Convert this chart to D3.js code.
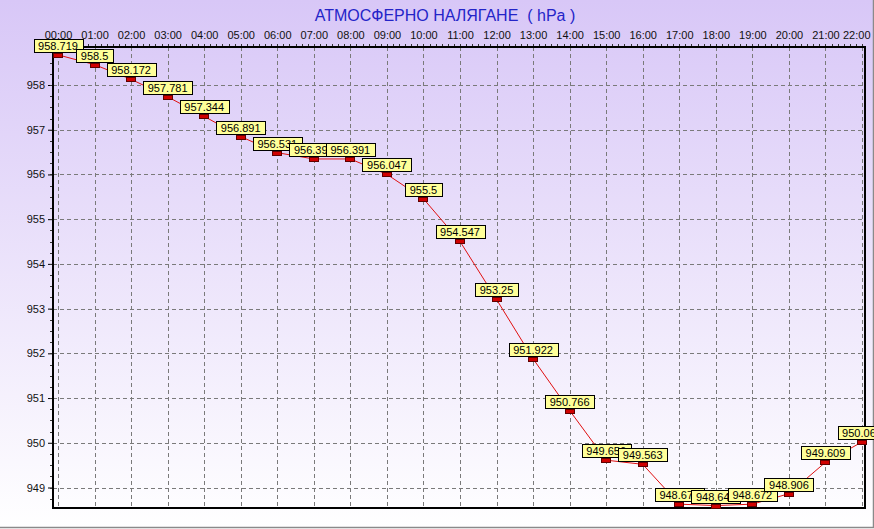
<!DOCTYPE html>
<html>
<head>
<meta charset="utf-8">
<script src="https://cdn.jsdelivr.net/npm/d3@7"></script>
<style>
  html, body { margin: 0; padding: 0; background: #fff; }
  svg { display: block; }
  text { font-family: "Liberation Sans", Arial, sans-serif; }
</style>
</head>
<body>
<svg id="chart" width="874" height="529"></svg>
<script>
const title = "АТМОСФЕРНО НАЛЯГАНЕ  ( hPa )";
const hours = ["00:00","01:00","02:00","03:00","04:00","05:00","06:00","07:00","08:00","09:00","10:00","11:00",
               "12:00","13:00","14:00","15:00","16:00","17:00","18:00","19:00","20:00","21:00","22:00"];
const pressure = [958.719, 958.5, 958.172, 957.781, 957.344, 956.891, 956.531, 956.391, 956.391, 956.047, 955.5, 954.547,
                  953.25, 951.922, 950.766, 949.656, 949.563, 948.672, 948.641, 948.672, 948.906, 949.609, 950.063];
const yTicks = [949, 950, 951, 952, 953, 954, 955, 956, 957, 958];

const W = 874, H = 529;
const plot = { left: 53, right: 865, top: 47, bottom: 508 };

const svg = d3.select("#chart");
const defs = svg.append("defs");
const grad = defs.append("linearGradient").attr("id", "bg").attr("x1", 0).attr("y1", 0).attr("x2", 0).attr("y2", 1);
grad.append("stop").attr("offset", "0%").attr("stop-color", "#d8c7f7");
grad.append("stop").attr("offset", "100%").attr("stop-color", "#ffffff");

svg.append("rect").attr("width", W).attr("height", H).attr("fill", "url(#bg)");
// outer frame (right/bottom)
svg.append("line").attr("x1", 873.5).attr("x2", 873.5).attr("y1", 0).attr("y2", 528).attr("stroke", "#8a8a8a").attr("stroke-width", 1.5);
svg.append("line").attr("x1", 0).attr("x2", 874).attr("y1", 527.5).attr("y2", 527.5).attr("stroke", "#8a8a8a").attr("stroke-width", 1.5);

const x = d3.scaleLinear().domain([0, hours.length - 1]).range([58, 862]);
const y = d3.scaleLinear().domain([949, 958]).range([487.5, 85]);

// title
svg.append("text").attr("x", 445).attr("y", 21).attr("text-anchor", "middle")
  .attr("font-size", 16).attr("fill", "#2424c8").style("white-space", "pre").attr("xml:space", "preserve").text(title);

// grid
const grid = svg.append("g").attr("stroke", "#7a7a7a").attr("stroke-width", 1).attr("stroke-dasharray", "4,3");
grid.selectAll("line.v").data(hours).join("line").attr("class", "v")
  .attr("x1", (d, i) => Math.round(x(i)) + 0.5).attr("x2", (d, i) => Math.round(x(i)) + 0.5)
  .attr("y1", plot.top).attr("y2", plot.bottom);
grid.selectAll("line.h").data(yTicks).join("line").attr("class", "h")
  .attr("x1", plot.left).attr("x2", plot.right)
  .attr("y1", d => Math.round(y(d)) + 0.5).attr("y2", d => Math.round(y(d)) + 0.5);

// top axis labels (hours)
const xAxis = d3.axisTop(x).tickValues(d3.range(hours.length)).tickFormat(i => hours[i]).tickSize(0).tickPadding(0);
const gx = svg.append("g").attr("transform", `translate(0,${plot.top})`).call(xAxis);
gx.select(".domain").remove();
gx.selectAll("text").attr("y", -8).attr("font-size", 11).attr("fill", "#111").attr("font-family", "Liberation Sans, Arial, sans-serif");
// keep the last label inside the picture
gx.selectAll(".tick").filter(d => d === hours.length - 1).select("text").attr("text-anchor", "end").attr("dx", 8);
// minor ticks on top axis (every 10 min)
const minorX = d3.range(0, (hours.length - 1) * 6 + 1).map(k => k / 6);
svg.append("g").selectAll("line").data(minorX).join("line")
  .attr("x1", d => Math.round(x(d)) + 0.5).attr("x2", d => Math.round(x(d)) + 0.5)
  .attr("y1", plot.top - 3).attr("y2", plot.top).attr("stroke", "#333").attr("stroke-width", 1);

// left axis
const yAxis = d3.axisLeft(y).tickValues(yTicks).tickFormat(d3.format("d")).tickSize(5).tickPadding(3);
const gy = svg.append("g").attr("transform", `translate(${plot.left},0)`).call(yAxis);
gy.select(".domain").remove();
gy.selectAll("line").attr("stroke", "#000");
gy.selectAll("text").attr("font-size", 11).attr("fill", "#111").attr("font-family", "Liberation Sans, Arial, sans-serif");
// minor ticks on y (every 0.25)
const minorY = d3.range(948.75, 958.76, 0.25).filter(v => y(v) > plot.top && y(v) < plot.bottom);
svg.append("g").selectAll("line").data(minorY).join("line")
  .attr("x1", plot.left - 3).attr("x2", plot.left)
  .attr("y1", d => Math.round(y(d)) + 0.5).attr("y2", d => Math.round(y(d)) + 0.5)
  .attr("stroke", "#333");

// plot frame
svg.append("rect").attr("x", plot.left).attr("y", plot.top)
  .attr("width", plot.right - plot.left).attr("height", plot.bottom - plot.top)
  .attr("fill", "none").attr("stroke", "#000").attr("stroke-width", 2);

// line
const line = d3.line().x((d, i) => x(i)).y(d => y(d) + 2);
svg.append("path").datum(pressure).attr("d", line).attr("fill", "none").attr("stroke", "#e01010").attr("stroke-width", 1);

// markers + labels
const pts = svg.append("g");
pressure.forEach((v, i) => {
  const px = x(i), py = y(v);
  pts.append("rect").attr("x", Math.round(px) - 4.5).attr("y", Math.round(py) + 0.5)
    .attr("width", 9).attr("height", 4).attr("fill", "#d00000").attr("stroke", "#600000").attr("stroke-width", 1);
});
pressure.forEach((v, i) => {
  const px = x(i), py = y(v);
  const g = pts.append("g");
  const t = g.append("text").attr("x", px).attr("y", py - 3).attr("text-anchor", "middle")
    .attr("font-size", 11).attr("fill", "#000").text(String(v));
  const bb = t.node().getBBox();
  const bw = Math.round(bb.width + 9), bh = 13;
  g.insert("rect", "text").attr("x", Math.round(px - bw / 2) + 0.5).attr("y", Math.round(py) - bh - 0.5)
    .attr("width", bw).attr("height", bh).attr("fill", "#ffff99").attr("stroke", "#000").attr("stroke-width", 1);
});
</script>
</body>
</html>
